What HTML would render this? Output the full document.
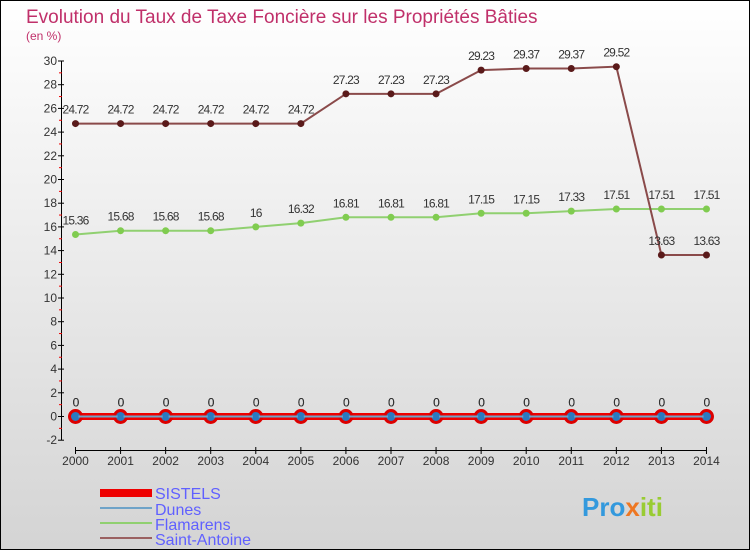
<!DOCTYPE html>
<html><head><meta charset="utf-8"><style>
body{margin:0}
#c{width:750px;height:550px;position:relative;font-family:"Liberation Sans",sans-serif;}
</style></head><body>
<div id="c">
<svg id="s" width="750" height="550" xmlns="http://www.w3.org/2000/svg">
<defs><linearGradient id="bg" x1="0" y1="0" x2="0" y2="1"><stop offset="0" stop-color="#ffffff"/><stop offset="1" stop-color="#d4d4d4"/></linearGradient></defs>
<rect x="0.5" y="0.5" width="749" height="549" fill="url(#bg)" stroke="#000"/>
<text x="26" y="23" font-size="19" fill="#c0306a">Evolution du Taux de Taxe Foncière sur les Propriétés Bâties</text>
<text x="26" y="40" font-size="12" fill="#c0306a">(en %)</text>
<g id="axes"></g><g id="series"></g>
<g>
<rect x="100" y="489" width="52" height="8" fill="#e00"/>
<text x="155" y="499" font-size="16" fill="#6060ff">SISTELS</text>
<line x1="100" x2="152" y1="508" y2="508" stroke="#6fa3c8" stroke-width="2"/>
<text x="155" y="515" font-size="16" fill="#6060ff">Dunes</text>
<line x1="100" x2="152" y1="523" y2="523" stroke="#90d070" stroke-width="2"/>
<text x="155" y="530" font-size="16" fill="#6060ff">Flamarens</text>
<line x1="100" x2="152" y1="538" y2="538" stroke="#9a6060" stroke-width="2"/>
<text x="155" y="545" font-size="16" fill="#6060ff">Saint-Antoine</text>
</g>
<text x="582" y="516" font-size="26" font-weight="bold" fill="#3399dd">Pro<tspan fill="#ee7722">x</tspan><tspan fill="#99cc33">iti</tspan></text>
</svg>
</div>
<script>
const years=[2000,2001,2002,2003,2004,2005,2006,2007,2008,2009,2010,2011,2012,2013,2014];
const sistels=[0,0,0,0,0,0,0,0,0,0,0,0,0,0,0];
const dunes=[0,0,0,0,0,0,0,0,0,0,0,0,0,0,0];
const flamarens=[15.36,15.68,15.68,15.68,16,16.32,16.81,16.81,16.81,17.15,17.15,17.33,17.51,17.51,17.51];
const saintAntoine=[24.72,24.72,24.72,24.72,24.72,24.72,27.23,27.23,27.23,29.23,29.37,29.37,29.52,13.63,13.63];
const yTicks=[-2,0,2,4,6,8,10,12,14,16,18,20,22,24,26,28,30];
const NS="http://www.w3.org/2000/svg";
const x=i=>75.5+i*45.07;
const y=v=>416.5-v*11.85;
function mk(tag,attrs,parent,txt){const e=document.createElementNS(NS,tag);for(const k in attrs)e.setAttribute(k,attrs[k]);if(txt!==undefined)e.textContent=txt;parent.appendChild(e);return e;}
const ax=document.getElementById('axes'),sg=document.getElementById('series');
let e=mk('line',{x1:61.5,x2:61.5,y1:y(30),y2:y(-2),stroke:'#000'},ax);


e=mk('line',{x1:x(0),x2:x(14),y1:450.5,y2:450.5,stroke:'#000'},ax);


const yMax=yTicks[yTicks.length-1];
yTicks.forEach(t=>{
 mk('line',{x1:58,x2:64,y1:y(t),y2:y(t),stroke:'#000'},ax);
 if(t<yMax) mk('line',{x1:59,x2:62,y1:y(t+1),y2:y(t+1),stroke:'#e00'},ax);
 const l=mk('text',{x:57,y:y(t)+4,'font-size':12,'text-anchor':'end',fill:'#333'},ax,t);
 
 
});
years.forEach((yr,i)=>{
 mk('line',{x1:x(i),x2:x(i),y1:447,y2:454,stroke:'#000'},ax);
 const l=mk('text',{x:x(i),y:465,'font-size':12,'text-anchor':'middle',fill:'#333'},ax,yr);
 
 
});
function series(vals,name,color,width,dotR,dotFill,dotStroke,labels){
 const g=mk('g',{},sg);
 
 
 const p=mk('polyline',{points:vals.map((v,i)=>x(i)+','+y(v)).join(' '),fill:'none',stroke:color,'stroke-width':width},g);
 
 
 vals.forEach((v,i)=>{
  const c=mk('circle',{cx:x(i),cy:y(v),r:dotR,fill:dotFill,stroke:dotStroke,'stroke-width':dotStroke?3:0},g);
  
  
  if(labels){const t=mk('text',{x:x(i),y:y(v)-10,'font-size':12,'text-anchor':'middle',fill:'#333','letter-spacing':'-0.8'},g,v);
  
  }
 });
}
series(sistels,'sistels','#e00',7,6,'#2a7ac0','#d00',true);
series(dunes,'dunes','#6fa3c8',2,3,'#2a7ac0',null,true);
series(flamarens,'flamarens','#90d070',2,3.5,'#80cc50',null,true);
series(saintAntoine,'saint-antoine','#8a4a4a',2,3.5,'#5a1a1a',null,true);
</script>
</body></html>
